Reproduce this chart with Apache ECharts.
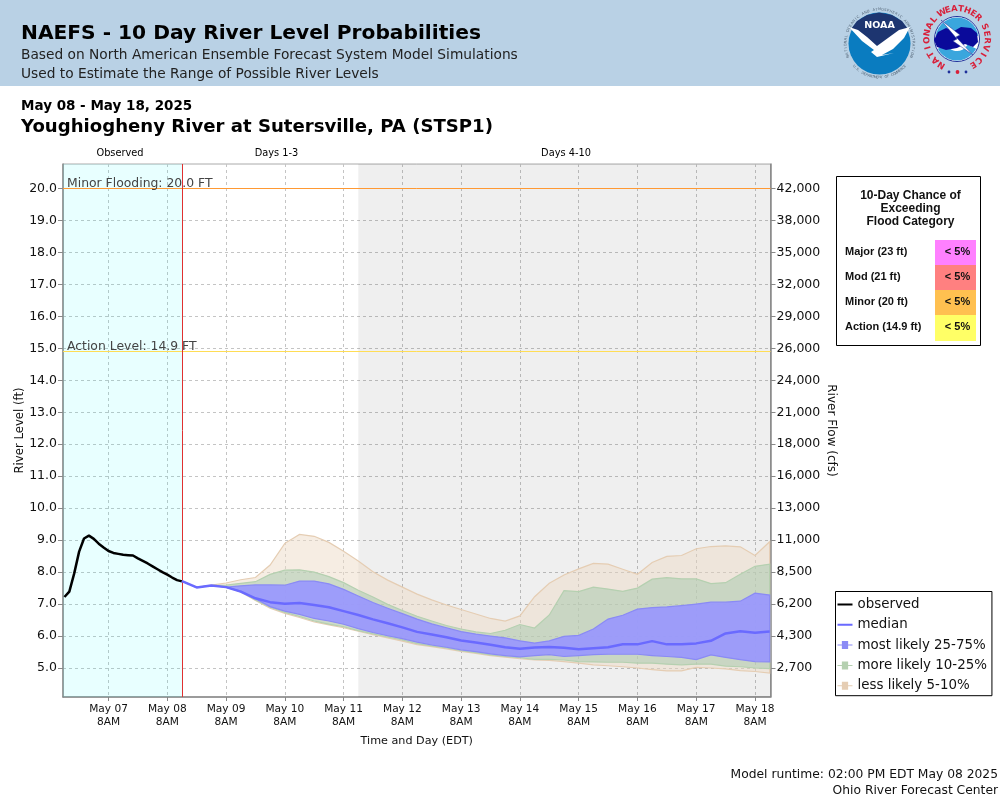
<!DOCTYPE html>
<html>
<head>
<meta charset="utf-8">
<style>html,body{margin:0;padding:0;background:#fff}#main{width:1000px;height:800px}</style>
<script src="https://cdn.jsdelivr.net/npm/echarts@6/dist/echarts.min.js"></script>
</head>
<body>
<div id="main"></div>
<script>
// observed stage, every 2 hours
var observedTimes = ['2025-05-06T14:00','2025-05-06T16:00','2025-05-06T18:00','2025-05-06T20:00','2025-05-06T22:00','2025-05-07T00:00','2025-05-07T02:00','2025-05-07T04:00','2025-05-07T06:00','2025-05-07T08:00','2025-05-07T10:00','2025-05-07T12:00','2025-05-07T14:00','2025-05-07T16:00','2025-05-07T18:00','2025-05-07T20:00','2025-05-07T22:00','2025-05-08T00:00','2025-05-08T02:00','2025-05-08T04:00','2025-05-08T06:00','2025-05-08T08:00','2025-05-08T10:00','2025-05-08T12:00','2025-05-08T14:00'];
var observed = [7.22,7.39,7.96,8.64,9.05,9.14,9.04,8.89,8.77,8.66,8.6,8.57,8.54,8.53,8.52,8.43,8.35,8.27,8.18,8.09,8.0,7.92,7.83,7.75,7.71];

// forecast, every 6 hours
var forecastTimes = ['2025-05-08T14:00','2025-05-08T20:00','2025-05-09T02:00','2025-05-09T08:00','2025-05-09T14:00','2025-05-09T20:00','2025-05-10T02:00','2025-05-10T08:00','2025-05-10T14:00','2025-05-10T20:00','2025-05-11T02:00','2025-05-11T08:00','2025-05-11T14:00','2025-05-11T20:00','2025-05-12T02:00','2025-05-12T08:00','2025-05-12T14:00','2025-05-12T20:00','2025-05-13T02:00','2025-05-13T08:00','2025-05-13T14:00','2025-05-13T20:00','2025-05-14T02:00','2025-05-14T08:00','2025-05-14T14:00','2025-05-14T20:00','2025-05-15T02:00','2025-05-15T08:00','2025-05-15T14:00','2025-05-15T20:00','2025-05-16T02:00','2025-05-16T08:00','2025-05-16T14:00','2025-05-16T20:00','2025-05-17T02:00','2025-05-17T08:00','2025-05-17T14:00','2025-05-17T20:00','2025-05-18T02:00','2025-05-18T08:00','2025-05-18T14:00'];
var median = [7.72,7.52,7.58,7.53,7.39,7.18,7.06,7.01,7.03,6.97,6.9,6.78,6.66,6.52,6.4,6.27,6.13,6.05,5.96,5.86,5.8,5.73,5.65,5.6,5.64,5.66,5.63,5.59,5.62,5.65,5.74,5.74,5.84,5.74,5.74,5.77,5.85,6.08,6.15,6.1,6.14];
var p75 = [7.72,7.52,7.58,7.53,7.57,7.6,7.6,7.59,7.72,7.72,7.63,7.46,7.25,7.05,6.87,6.7,6.53,6.38,6.26,6.14,6.06,6.0,5.94,5.85,5.78,5.85,5.99,6.02,6.22,6.53,6.65,6.84,6.89,6.91,6.95,7.0,7.06,7.06,7.09,7.34,7.28];
var p25 = [7.72,7.52,7.58,7.53,7.41,7.17,6.92,6.78,6.68,6.55,6.47,6.37,6.23,6.11,6.01,5.92,5.81,5.72,5.65,5.57,5.51,5.44,5.39,5.35,5.39,5.42,5.36,5.39,5.42,5.43,5.43,5.43,5.39,5.36,5.33,5.26,5.41,5.33,5.26,5.2,5.19];
var p90 = [7.72,7.52,7.58,7.59,7.65,7.7,7.93,8.06,8.07,8.0,7.86,7.67,7.43,7.22,6.99,6.8,6.62,6.47,6.33,6.22,6.13,6.08,6.18,6.36,6.25,6.66,7.42,7.39,7.53,7.47,7.4,7.5,7.78,7.83,7.79,7.79,7.64,7.67,7.93,8.18,8.25];
var p10 = [7.72,7.52,7.58,7.53,7.39,7.13,6.9,6.74,6.61,6.47,6.37,6.29,6.17,6.07,5.97,5.88,5.76,5.69,5.63,5.54,5.48,5.41,5.36,5.32,5.27,5.27,5.25,5.2,5.19,5.18,5.18,5.15,5.15,5.12,5.1,5.12,5.12,5.06,5.04,5.0,4.98];
var p95 = [7.72,7.52,7.59,7.66,7.76,7.83,8.22,8.9,9.18,9.12,8.93,8.65,8.35,8.01,7.75,7.53,7.31,7.13,6.97,6.83,6.69,6.55,6.47,6.63,7.23,7.65,7.91,8.1,8.27,8.25,8.09,7.93,8.3,8.49,8.52,8.73,8.8,8.82,8.79,8.52,8.95];
var p05 = [7.72,7.52,7.58,7.53,7.38,7.11,6.87,6.71,6.58,6.44,6.35,6.26,6.15,6.04,5.94,5.84,5.73,5.67,5.6,5.52,5.46,5.39,5.34,5.29,5.25,5.24,5.2,5.15,5.1,5.07,5.04,5.0,4.95,4.91,4.91,5.02,5.0,4.97,4.92,4.89,4.84];

// axis ticks
var dayTicks = ['2025-05-07T08:00','2025-05-08T08:00','2025-05-09T08:00','2025-05-10T08:00','2025-05-11T08:00','2025-05-12T08:00','2025-05-13T08:00','2025-05-14T08:00','2025-05-15T08:00','2025-05-16T08:00','2025-05-17T08:00','2025-05-18T08:00'];
var dayLabels = ['May 07','May 08','May 09','May 10','May 11','May 12','May 13','May 14','May 15','May 16','May 17','May 18'];
var levelTicks = [5,6,7,8,9,10,11,12,13,14,15,16,17,18,19,20];
var flowLabels = ['2,700','4,300','6,200','8,500','11,000','13,000','16,000','18,000','21,000','24,000','26,000','29,000','32,000','35,000','38,000','42,000'];

// flood category table
var floodCategories = ['Major (23 ft)','Mod (21 ft)','Minor (20 ft)','Action (14.9 ft)'];
var floodChance = ['< 5%','< 5%','< 5%','< 5%'];
var floodColors = ['#ff80ff','#ff8080','#ffc050','#ffff66'];

var FONT = '"DejaVu Sans"';
var ARIAL = '"Liberation Sans"';
var LINE_ICON = 'path://M0 0H.01V.01H0ZM0 8H24V12H0ZM0 19.99H.01V20H0Z';
var BAND_ICON = 'path://M0 0H.01V.01H0ZM0 9H7V2H17V9H24V11H17V18H7V11H0ZM0 19.99H.01V20H0Z';

function ms(s) { return new Date(s).getTime(); }
function pairs(times, vals) { return vals.map(function (v, i) { return [ms(times[i]), v]; }); }

// one filled polygon between two forecast curves
function bandSeries(name, hi, lo, fill, stroke, z) {
	return {
		name: name,
		type: 'custom',
		z: z,
		silent: true,
		itemStyle: { color: stroke },
		data: hi.map(function (v, i) { return [ms(forecastTimes[i]), v, lo[i]]; }),
		encode: { x: 0, y: [1, 2] },
		renderItem: function (params, api) {
			if (params.dataIndex !== 0) return null;
			var pts = [], i;
			for (i = 0; i < hi.length; i++) pts.push(api.coord([ms(forecastTimes[i]), hi[i]]));
			for (i = lo.length - 1; i >= 0; i--) pts.push(api.coord([ms(forecastTimes[i]), lo[i]]));
			return { type: 'polygon', shape: { points: pts }, style: { fill: fill, stroke: stroke, lineWidth: 1.2 } };
		}
	};
}

// letters set around a circle, angles in degrees clockwise from the top
function ringText(str, cx, cy, r, from, to, font, color, flip) {
	var out = [];
	for (var i = 0; i < str.length; i++) {
		var a = (from + (to - from) * i / (str.length - 1)) * Math.PI / 180;
		out.push({
			type: 'text', x: cx + r * Math.sin(a), y: cy - r * Math.cos(a),
			rotation: flip ? Math.PI - a : -a,
			style: { text: str[i], font: font, fill: color, align: 'center', verticalAlign: 'middle' }
		});
	}
	return out;
}

function logos() {
	var g = [];
	// NOAA
	g.push({ type: 'circle', shape: { cx: 879.5, cy: 43.5, r: 31 }, style: { fill: '#0a7cc0' } });
	g.push({ type: 'polygon', shape: { points: [[851,29],[857,21],[867,15],[879,12.5],[892,15],[902,21],[908,29],[897,32],[887,42],[878,47],[866,38],[858,32]] }, style: { fill: '#1d3570' } });
	g.push({ type: 'polygon', shape: { points: [[849,27],[858,30],[867,37],[877,46],[888,38],[899,30],[910,27],[904,38],[893,49],[882,55],[894,53],[877,57],[871,52],[874,50],[862,41]] }, style: { fill: '#ffffff' } });
	g.push({ type: 'text', x: 879.5, y: 25.5, style: { text: 'NOAA', font: 'bold 9.5px ' + FONT, fill: '#fff', align: 'center', verticalAlign: 'middle' } });
	g = g.concat(ringText('NATIONAL OCEANIC AND ATMOSPHERIC ADMINISTRATION', 879.5, 43.5, 34, -112, 112, '3.6px ' + FONT, '#556677'));
	g = g.concat(ringText('U.S. DEPARTMENT OF COMMERCE', 879.5, 43.5, 34, 228, 132, '3.6px ' + FONT, '#556677', true));
	// NWS
	g.push({ type: 'circle', shape: { cx: 957, cy: 39, r: 22.5 }, style: { fill: '#fff', stroke: '#1e2f9a', lineWidth: 1 } });
	g.push({ type: 'sector', shape: { cx: 957, cy: 39, r: 21.5, r0: 0, startAngle: Math.PI * 1.05, endAngle: Math.PI * 1.95 }, style: { fill: '#3aa6dd' } });
	g.push({ type: 'sector', shape: { cx: 957, cy: 39, r: 21.5, r0: 12, startAngle: Math.PI * 0.15, endAngle: Math.PI * 0.85 }, style: { fill: '#3aa6dd' } });
	g.push({ type: 'polygon', shape: { points: [[934,40],[938,32],[946,28],[954,31],[961,27],[971,28],[977,33],[978,42],[973,47],[965,44],[957,48],[946,50],[937,47]] }, style: { fill: '#0a0a9a' } });
	g.push({ type: 'polygon', shape: { points: [[941,20],[960,35],[956,37],[973,55],[953,41],[957,39]] }, style: { fill: '#fff', stroke: '#1e2f9a', lineWidth: 0.5 } });
	g = g.concat(ringText('NATIONAL', 957, 39, 30, -149, -50, 'bold 8.5px ' + FONT, '#d8203a'));
	g = g.concat(ringText('WEATHER', 957, 39, 30, -30, 45, 'bold 8.5px ' + FONT, '#d8203a'));
	g = g.concat(ringText('SERVICE', 957, 39, 30, 66, 148, 'bold 8.5px ' + FONT, '#d8203a'));
	[[-8.5, 1.4, '#1e2f9a'], [0, 1.9, '#d8203a'], [8.5, 1.4, '#1e2f9a']].forEach(function (s) {
		g.push({ type: 'circle', shape: { cx: 957.5 + s[0], cy: 72, r: s[1] }, style: { fill: s[2] } });
	});
	return g;
}

function floodTable() {
	var g = [{ type: 'rect', shape: { x: 836.5, y: 176.5, width: 144, height: 169 }, style: { fill: '#fff', stroke: '#000', lineWidth: 1 } }];
	['10-Day Chance of', 'Exceeding', 'Flood Category'].forEach(function (t, i) {
		g.push({ type: 'text', x: 910.5, y: 196 + i * 13, style: { text: t, font: 'bold 12px ' + ARIAL, fill: '#111', align: 'center', verticalAlign: 'middle' } });
	});
	floodCategories.forEach(function (name, i) {
		var y = 240 + i * 25;
		g.push({ type: 'rect', shape: { x: 935, y: y, width: 41, height: i === 3 ? 26 : 25 }, style: { fill: floodColors[i] } });
		g.push({ type: 'text', x: 845, y: y + 12, style: { text: name, font: 'bold 11px ' + ARIAL, fill: '#111', verticalAlign: 'middle' } });
		g.push({ type: 'text', x: 957.5, y: y + 12, style: { text: floodChance[i], font: 'bold 11px ' + ARIAL, fill: '#111', align: 'center', verticalAlign: 'middle' } });
	});
	return g;
}

function plainText(text, x, y, font, color, align) {
	return { type: 'text', x: x, y: y, style: { text: text, font: font, fill: color, align: align || 'left', verticalAlign: 'middle' } };
}

var headerBits = [
	{ type: 'rect', z: -1, shape: { x: 0, y: 0, width: 1000, height: 86 }, style: { fill: '#b9d1e5' } },
	plainText('May 08 - May 18, 2025', 21, 106, 'bold 13.5px ' + FONT, '#000'),
	plainText('Youghiogheny River at Sutersville, PA (STSP1)', 21, 127, 'bold 18.1px ' + FONT, '#000'),
	plainText('Observed', 120, 153.5, '9.8px ' + FONT, '#000', 'center'),
	plainText('Days 1-3', 276.5, 153.5, '9.8px ' + FONT, '#000', 'center'),
	plainText('Days 4-10', 566, 153.5, '9.8px ' + FONT, '#000', 'center'),
	plainText('Model runtime: 02:00 PM EDT May 08 2025', 998, 775, '12.3px ' + FONT, '#111', 'right'),
	plainText('Ohio River Forecast Center', 998, 791, '12.3px ' + FONT, '#111', 'right')
];

var myChart = echarts.init(document.getElementById('main'), null, { renderer: 'canvas' });

var refLabel = { show: true, position: 'insideStartTop', distance: [4, -1], color: '#444', fontFamily: FONT, fontSize: 12.4 };

var option = {
	animation: false,
	backgroundColor: '#fff',
	textStyle: { fontFamily: FONT },
	title: [
		{ text: 'NAEFS - 10 Day River Level Probabilities', left: 21, top: 24, padding: 0, textStyle: { fontFamily: FONT, fontSize: 20.2, fontWeight: 'bold', color: '#000' } },
		{ text: 'Based on North American Ensemble Forecast System Model Simulations', left: 21, top: 48, padding: 0, textStyle: { fontFamily: FONT, fontSize: 13.75, fontWeight: 'normal', color: '#222' } },
		{ text: 'Used to Estimate the Range of Possible River Levels', left: 21, top: 67, padding: 0, textStyle: { fontFamily: FONT, fontSize: 13.75, fontWeight: 'normal', color: '#222' } }
	],
	legend: {
		orient: 'vertical',
		left: 835.5,
		top: 591.5,
		padding: [5, 5, 2, 2],
		itemGap: 4.3,
		itemWidth: 15,
		itemHeight: 10,
		symbolKeepAspect: false,
		borderColor: '#000',
		borderWidth: 1,
		backgroundColor: '#fff',
		selectedMode: false,
		textStyle: { fontFamily: FONT, fontSize: 13.4, lineHeight: 16, color: '#111' },
		data: [
			{ name: 'observed', icon: LINE_ICON },
			{ name: 'median', icon: LINE_ICON },
			{ name: 'most likely 25-75%', icon: BAND_ICON },
			{ name: 'more likely 10-25%', icon: BAND_ICON },
			{ name: 'less likely 5-10%', icon: BAND_ICON }
		]
	},
	grid: { left: 63, right: 229.5, top: 164, height: 533, outerBoundsMode: 'none', show: true, borderColor: '#aaa', borderWidth: 1 },
	xAxis: {
		type: 'value',
		min: ms('2025-05-06T13:25'),
		max: ms('2025-05-18T14:20'),
		name: 'Time and Day (EDT)',
		nameLocation: 'middle',
		nameGap: 39,
		nameMoveOverlap: false,
		nameTextStyle: { fontFamily: FONT, fontSize: 11.2, color: '#111' },
		axisLine: { lineStyle: { color: '#888', width: 1.5 } },
		axisTick: { length: 4, lineStyle: { color: '#888' }, customValues: dayTicks.map(ms) },
		axisLabel: {
			customValues: dayTicks.map(ms),
			hideOverlap: false,
			color: '#111',
			fontFamily: FONT,
			fontSize: 10.6,
			lineHeight: 13,
			margin: 6,
			formatter: function (v) { return dayLabels[dayTicks.map(ms).indexOf(v)] + '\n8AM'; }
		},
		splitLine: { show: true, lineStyle: { color: '#c4c4c4', type: [3, 3], width: 1 } }
	},
	yAxis: [{
		type: 'value',
		min: 4.093,
		max: 20.766,
		name: 'River Level (ft)',
		nameLocation: 'middle',
		nameGap: 37,
		nameMoveOverlap: false,
		nameTextStyle: { fontFamily: FONT, fontSize: 11.7, color: '#111' },
		axisLine: { show: true, lineStyle: { color: '#888', width: 1.5 } },
		axisTick: { show: true, length: 5, lineStyle: { color: '#888' }, customValues: levelTicks },
		axisLabel: {
			customValues: levelTicks,
			color: '#111',
			fontFamily: FONT,
			fontSize: 12.5,
			margin: 6,
			padding: [3, 0, 0, 0],
			formatter: function (v) { return v.toFixed(1); }
		},
		splitLine: { show: true, lineStyle: { color: '#c4c4c4', type: [3, 3], width: 1 } }
	}, {
		type: 'value',
		position: 'right',
		min: 4.093,
		max: 20.766,
		name: 'River Flow (cfs)',
		nameLocation: 'middle',
		nameGap: 55,
		nameMoveOverlap: false,
		nameRotate: -90,
		nameTextStyle: { fontFamily: FONT, fontSize: 12, color: '#111' },
		axisLine: { show: true, lineStyle: { color: '#888', width: 1.5 } },
		axisTick: { show: true, length: 5, lineStyle: { color: '#888' }, customValues: levelTicks },
		axisLabel: {
			customValues: levelTicks,
			color: '#111',
			fontFamily: FONT,
			fontSize: 12.5,
			margin: 6,
			padding: [3, 0, 0, 0],
			formatter: function (v) { return flowLabels[levelTicks.indexOf(v)]; }
		},
		splitLine: { show: false }
	}],
	graphic: { elements: headerBits.concat(logos(), floodTable()) },
	series: [
		bandSeries('less likely 5-10%', p95, p05, 'rgba(238,220,200,.5)', '#e5cdb3', 3),
		bandSeries('more likely 10-25%', p90, p10, 'rgba(163,200,172,.5)', '#b5d0b0', 4),
		bandSeries('most likely 25-75%', p75, p25, 'rgba(152,150,255,.9)', '#8a8af5', 5),
		{
			name: 'median',
			type: 'line',
			z: 6,
			symbol: 'none',
			itemStyle: { color: '#6a6aff' },
			lineStyle: { color: '#6a6aff', width: 2.5 },
			data: pairs(forecastTimes, median)
		},
		{
			name: 'observed',
			type: 'line',
			z: 2,
			symbol: 'none',
			itemStyle: { color: '#000' },
			lineStyle: { color: '#000', width: 2.5 },
			data: pairs(observedTimes, observed),
			markArea: {
				silent: true,
				data: [
					[{ xAxis: ms('2025-05-06T13:25'), itemStyle: { color: 'rgba(0,255,255,.09)' } }, { xAxis: ms('2025-05-08T14:00') }],
					[{ xAxis: ms('2025-05-11T14:00'), itemStyle: { color: 'rgba(0,0,0,.063)' } }, { xAxis: ms('2025-05-18T14:20') }]
				]
			},
			markLine: {
				silent: true,
				symbol: 'none',
				data: [
					{ yAxis: 20, lineStyle: { color: '#ff9933', type: 'solid', width: 1 }, label: Object.assign({ formatter: 'Minor Flooding: 20.0 FT' }, refLabel) },
					{ yAxis: 14.9, lineStyle: { color: '#ffdd55', type: 'solid', width: 1 }, label: Object.assign({ formatter: 'Action Level: 14.9 FT' }, refLabel) },
					{ xAxis: ms('2025-05-08T14:00'), lineStyle: { color: '#e03030', type: 'solid', width: 1 }, label: { show: false } }
				]
			}
		}
	]
};

myChart.setOption(option);
</script>
</body>
</html>
